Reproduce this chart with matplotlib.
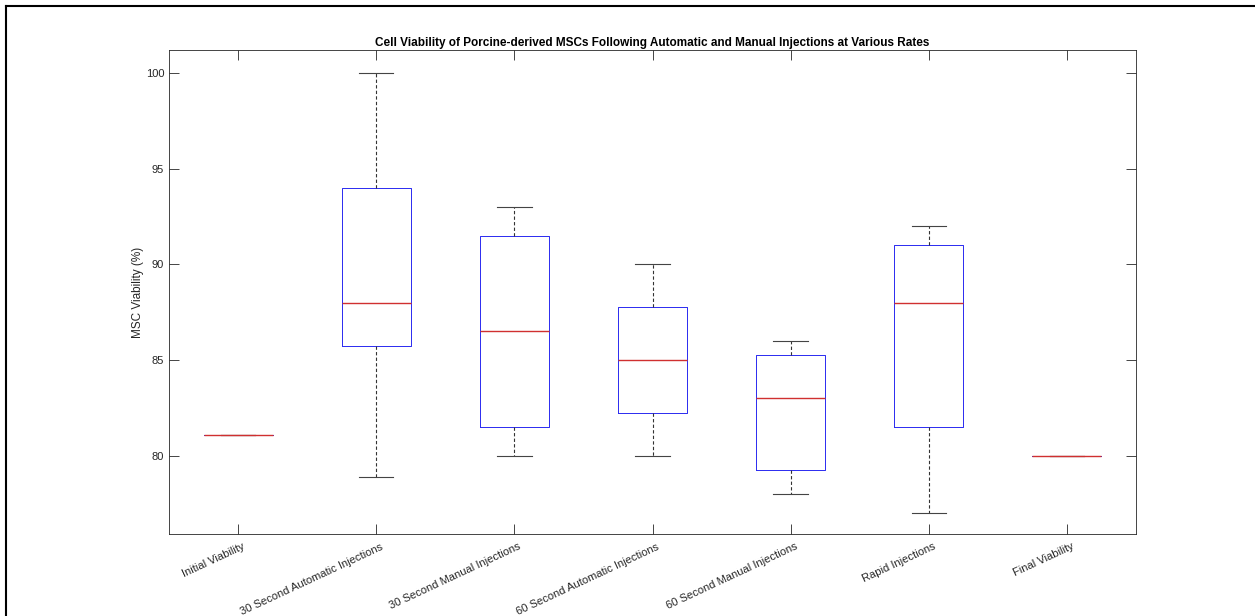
import matplotlib
matplotlib.use("Agg")
import matplotlib.pyplot as plt
from matplotlib.lines import Line2D
from matplotlib.transforms import ScaledTranslation

plt.rcParams['font.family'] = ['Liberation Sans', 'DejaVu Sans']

groups = ["Initial Viability", "30 Second Automatic Injections", "30 Second Manual Injections",
          "60 Second Automatic Injections", "60 Second Manual Injections", "Rapid Injections",
          "Final Viability"]
whisker_low = [81.1, 78.9, 80.0, 80.0, 78.0, 77.0, 80.0]
q1 = [81.1, 85.75, 81.5, 82.25, 79.25, 81.5, 80.0]
median = [81.1, 88.0, 86.5, 85.0, 83.0, 88.0, 80.0]
q3 = [81.1, 94.0, 91.5, 87.75, 85.25, 91.0, 80.0]
whisker_high = [81.1, 100.0, 93.0, 90.0, 86.0, 92.0, 80.0]

stats = []
for i in range(len(groups)):
    stats.append(dict(whislo=whisker_low[i], q1=q1[i], med=median[i], q3=q3[i],
                      whishi=whisker_high[i], fliers=[]))

fig = plt.figure(figsize=(12.55, 6.16), dpi=100)
ax = fig.add_axes([169 / 1255, 1 - 534 / 616, (1136 - 169) / 1255, (534 - 50) / 616])

ax.bxp(stats, positions=range(1, len(groups) + 1), widths=0.5, showfliers=False,
       boxprops=dict(color='#2a2af0', linewidth=0.7),
       medianprops=dict(color='#d03030', linewidth=1.0, zorder=4),
       whiskerprops=dict(color='#333333', linestyle=(0, (3, 2)), linewidth=0.8),
       capprops=dict(color='#444444', linewidth=0.8),
       capwidths=0.25)

ax.set_xlim(0.5, len(groups) + 0.5)
ax.set_ylim(75.9, 101.2)
ax.set_yticks([80, 85, 90, 95, 100])
ax.set_xticks(range(1, len(groups) + 1))
ax.set_xticklabels(groups, rotation=25, ha='right', va='top', rotation_mode='anchor', fontsize=8)
ax.tick_params(direction='in', top=True, right=True, length=7, width=0.6,
               colors='#262626', labelsize=8)
ax.tick_params(axis='x', pad=5.5)
for s in ax.spines.values():
    s.set_color('#262626')
    s.set_linewidth(0.6)

# nudge the rotated category labels a little to the right, as in the original
shift = ScaledTranslation(4 / 100, 0, fig.dpi_scale_trans)
for lab in ax.get_xticklabels():
    lab.set_transform(lab.get_transform() + shift)

ax.set_ylabel('MSC Viability (%)', fontsize=8.5, color='#262626', labelpad=1)
ax.set_title('Cell Viability of Porcine-derived MSCs Following Automatic and Manual Injections at Various Rates',
             fontsize=8.5, fontweight='bold', pad=3)

# figure frame on the left and top edges
fig.add_artist(Line2D([6 / 1255, 6 / 1255], [0, 1 - 6 / 616], transform=fig.transFigure,
                      color='black', linewidth=1.5))
fig.add_artist(Line2D([6 / 1255, 1], [1 - 6 / 616, 1 - 6 / 616], transform=fig.transFigure,
                      color='black', linewidth=1.5))

fig.savefig('out.png', dpi=100)
